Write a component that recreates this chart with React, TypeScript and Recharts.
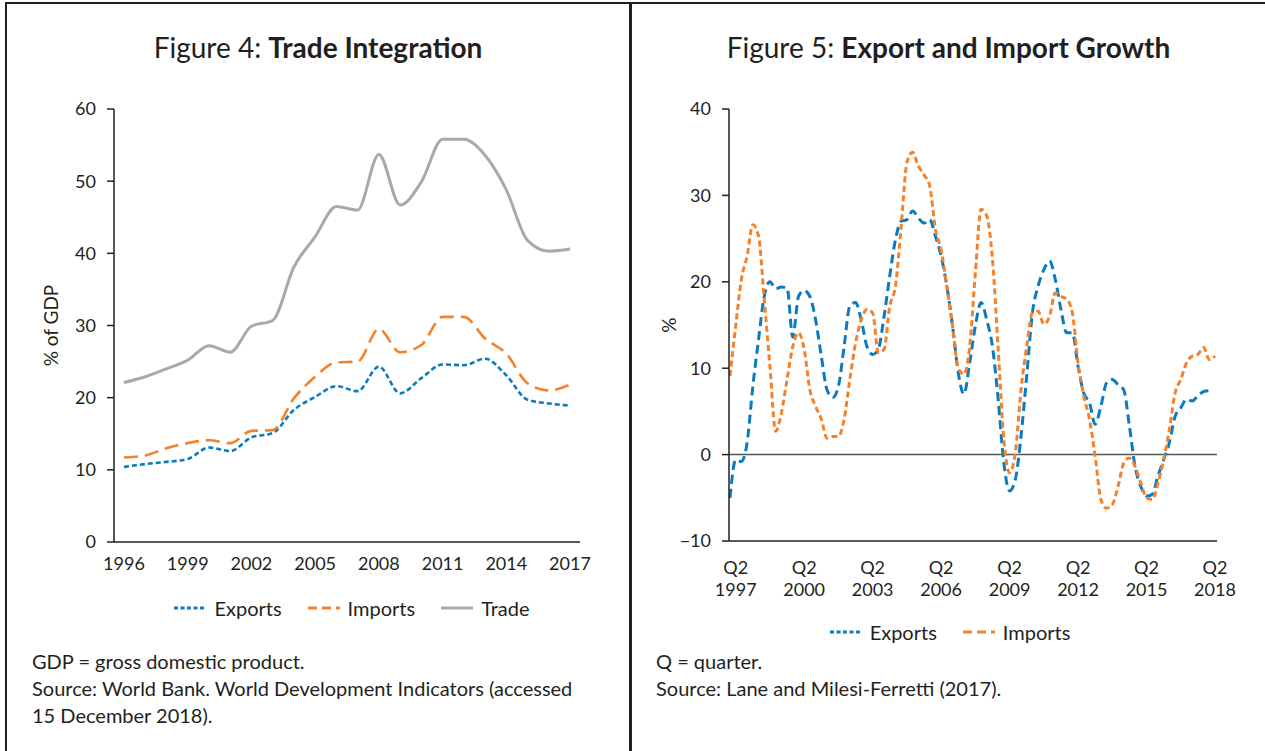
import { LineChart, Line, XAxis, YAxis, ReferenceArea, ReferenceLine, Legend } from 'recharts';

const INK = '#231f20';
const BLUE = '#0a7bbf';
const ORANGE = '#f5822a';
const GREY = '#a7a9ac';
const FONT = 'Lato, sans-serif';

// Figure 4: trade as % of GDP
const years = ['1996', '1997', '1998', '1999', '2000', '2001', '2002', '2003', '2004', '2005', '2006',
  '2007', '2008', '2009', '2010', '2011', '2012', '2013', '2014', '2015', '2016', '2017'];
const exportsGdp = [10.4, 10.8, 11.1, 11.5, 13.1, 12.6, 14.5, 15.1, 18.3, 20.1, 21.6, 20.9, 24.3, 20.6, 22.7,
  24.6, 24.5, 25.4, 23.1, 19.7, 19.2, 18.9];
const importsGdp = [11.7, 12.0, 13.0, 13.7, 14.1, 13.7, 15.4, 15.5, 19.9, 22.9, 24.9, 25.0, 29.5, 26.3, 27.3,
  31.2, 31.2, 28.2, 26.1, 22.0, 21.0, 21.8];
const tradeGdp = [22.1, 22.9, 24.0, 25.2, 27.2, 26.3, 29.9, 30.7, 38.1, 42.3, 46.5, 46.0, 53.7, 46.7, 49.9,
  55.8, 55.8, 53.6, 48.8, 41.8, 40.3, 40.6];
const gdpTicks = [0, 10, 20, 30, 40, 50, 60];

// Figure 5: growth, Q1 1997 - Q2 2018
const firstYear = 1997;
const quarterCount = 86;
const exportGrowth = [-5.0, -0.6, -0.8, 1.4, 7.9, 13.3, 18.3, 20.0, 19.2, 19.4,
  19.3, 13.6, 18.3, 19.0, 18.3, 15.6, 11.4, 7.5, 6.6, 7.9,
  12.5, 17.2, 17.6, 15.6, 12.5, 11.6, 12.2, 16.0, 20.7, 24.9,
  27.0, 27.2, 28.2, 27.4, 26.8, 27.2, 25.3, 23.0, 19.5, 14.9,
  9.5, 7.0, 10.6, 14.9, 17.6, 15.6, 12.5, 6.4, -1.0, -4.2,
  -2.9, 2.1, 9.1, 16.4, 19.5, 21.4, 22.4, 20.3, 16.8, 14.1,
  14.1, 10.2, 7.1, 6.0, 3.5, 5.6, 8.3, 8.7, 8.1, 7.5,
  3.3, -1.4, -3.7, -4.8, -4.6, -2.5, -0.6, 1.4, 4.4, 5.4,
  6.4, 6.2, 6.8, 7.3, 7.4, null];
const importGrowth = [9.1, 14.9, 20.3, 23.0, 26.6, 25.3, 18.0, 10.2, 2.7, 4.8,
  8.7, 12.5, 14.1, 12.2, 7.5, 5.6, 4.1, 1.9, 2.1, 2.1,
  4.1, 8.7, 12.9, 15.6, 16.8, 16.4, 11.8, 12.2, 17.2, 19.5,
  26.4, 33.8, 35.0, 33.4, 32.4, 31.1, 26.1, 23.7, 19.5, 14.9,
  10.0, 9.3, 12.5, 21.0, 28.4, 27.6, 22.6, 12.2, 1.7, -2.1,
  0.2, 7.5, 12.5, 16.4, 16.6, 15.1, 16.0, 18.7, 18.3, 18.0,
  16.4, 10.6, 6.8, 4.1, -0.2, -5.2, -6.2, -5.8, -3.7, -1.0,
  -0.4, -1.4, -3.3, -5.0, -5.2, -3.3, -0.6, 2.9, 7.1, 8.7,
  10.6, 11.4, 11.6, 12.4, 11.0, 11.4];
const tickYears = ['1997', '2000', '2003', '2006', '2009', '2012', '2015', '2018'];
const tickQuarter = 'Q2';
const growthTicks = [-10, 0, 10, 20, 30, 40];

const tradeData = years.map((year, i) => ({
  year, exports: exportsGdp[i], imports: importsGdp[i], trade: tradeGdp[i],
}));

const growthData = Array.from({ length: quarterCount }, (_, i) => ({
  year: String(firstYear + Math.floor(i / 4)),
  q: `Q${(i % 4) + 1}`,
  quarter: `${firstYear + Math.floor(i / 4)} Q${(i % 4) + 1}`,
  exports: exportGrowth[i],
  imports: importGrowth[i],
}));

const legendDash: Record<string, string | undefined> = { exports: '4 2.5', imports: '9 5', trade: undefined };

const tickStyle = { fill: INK, fontSize: 18, fontFamily: FONT, fontWeight: 400 };

const makeLegend = (shift: number) => (props: any) => (
  <div style={{ display: 'flex', justifyContent: 'center', paddingLeft: shift, height: 30, alignItems: 'center',
    fontFamily: FONT, fontSize: 20, fontWeight: 400, color: INK }}>
    {(props.payload || []).map((entry: any) => (
      <span key={entry.dataKey} style={{ display: 'inline-flex', alignItems: 'center', margin: '0 13px' }}>
        <svg width={32} height={8}>
          <line x1={0} y1={4} x2={32} y2={4} stroke={entry.color} strokeWidth={3}
            strokeDasharray={legendDash[entry.dataKey]} />
        </svg>
        <span style={{ marginLeft: 8 }}>{entry.value}</span>
      </span>
    ))}
  </div>
);

const axisTitle = (text: string, dx: number) => (props: any) => {
  const vb = props.viewBox;
  const cx = vb.x + dx;
  const cy = vb.y + vb.height / 2;
  return (
    <text x={cx} y={cy} transform={`rotate(-90, ${cx}, ${cy})`} textAnchor='middle' dominantBaseline='central'
      fill={INK} fontSize={19} fontFamily={FONT}>{text}</text>
  );
};

const QuarterTick = (props: any) => {
  const { x, y, payload } = props;
  const row = growthData.find((d) => d.quarter === payload.value);
  if (!row || row.q !== tickQuarter || !tickYears.includes(row.year)) return <g />;
  return (
    <text x={x} y={y} textAnchor='middle' {...tickStyle}>
      <tspan x={x} dy='0.71em'>{row.q}</tspan>
      <tspan x={x} dy='1.25em'>{row.year}</tspan>
    </text>
  );
};

const minus = (v: number) => (v < 0 ? `\u2212${Math.abs(v)}` : `${v}`);

const titleStyle = {
  position: 'absolute' as const, top: 31, height: 32, lineHeight: '32px', textAlign: 'center' as const,
  fontFamily: FONT, fontSize: 28, color: INK,
};
const noteStyle = {
  position: 'absolute' as const, fontFamily: FONT, fontSize: 20, lineHeight: '27px', color: INK,
};

export default function App() {
  return (
    <div style={{ position: 'absolute', left: 0, top: 0, width: 1265, height: 751, background: '#fff', overflow: 'hidden' }}>
      <div style={{ position: 'absolute', left: 5, top: 2, width: 1260, height: 2, background: INK }} />
      <div style={{ position: 'absolute', left: 5, top: 2, width: 2, height: 749, background: INK }} />
      <div style={{ position: 'absolute', left: 629, top: 2, width: 3, height: 749, background: INK }} />

      <div style={{ ...titleStyle, left: 0, width: 636 }}>
        Figure 4: <b>Trade Integration</b>
      </div>
      <div style={{ ...titleStyle, left: 632, width: 633 }}>
        Figure 5: <b>Export and Import Growth</b>
      </div>

      <div style={{ position: 'absolute', left: 0, top: 0 }}>
        <LineChart width={630} height={640} data={tradeData} margin={{ top: 109, right: 50, bottom: 17, left: 54 }}>
          <XAxis dataKey='year' interval={2} tickLine={false} tickSize={0} tickMargin={15} height={51}
            padding={{ left: 10, right: 10 }}
            axisLine={{ stroke: INK, strokeWidth: 1.5 }} tick={tickStyle} />
          <YAxis domain={[0, 60]} ticks={gdpTicks} width={60} tickSize={7} tickMargin={11}
            axisLine={{ stroke: INK, strokeWidth: 1.5 }} tickLine={{ stroke: INK, strokeWidth: 1.5 }} tick={tickStyle}
            label={{ content: axisTitle('% of GDP', -4) }} />
          <ReferenceArea fill='none' stroke={INK} strokeWidth={1.5} />
          <Legend verticalAlign='bottom' content={makeLegend(70)} />
          <Line type='monotone' dataKey='exports' name='Exports' stroke={BLUE} strokeWidth={2.6}
            strokeDasharray='5 3' dot={false} isAnimationActive={false} />
          <Line type='monotone' dataKey='imports' name='Imports' stroke={ORANGE} strokeWidth={2.6}
            strokeDasharray='14 7' dot={false} isAnimationActive={false} />
          <Line type='monotone' dataKey='trade' name='Trade' stroke={GREY} strokeWidth={3}
            dot={false} isAnimationActive={false} />
        </LineChart>
      </div>

      <div style={{ position: 'absolute', left: 630, top: 0 }}>
        <LineChart width={635} height={660} data={growthData} margin={{ top: 109, right: 48, bottom: 13, left: 39 }}>
          <XAxis dataKey='quarter' interval={0} tickLine={false} tickSize={0} tickMargin={20} height={76}
            padding={{ left: 1, right: 2 }}
            axisLine={{ stroke: INK, strokeWidth: 1.5 }} tick={<QuarterTick />} />
          <YAxis domain={[-10, 40]} ticks={growthTicks} width={60} tickSize={7} tickMargin={11}
            tickFormatter={minus}
            axisLine={{ stroke: INK, strokeWidth: 1.5 }} tickLine={{ stroke: INK, strokeWidth: 1.5 }} tick={tickStyle}
            label={{ content: axisTitle('%', -1) }} />
          <ReferenceArea fill='none' stroke={INK} strokeWidth={1.5} />
          <ReferenceLine y={0} stroke='#555' strokeWidth={1.5} />
          <Legend verticalAlign='bottom' content={makeLegend(14)} />
          <Line type='monotone' dataKey='exports' name='Exports' stroke={BLUE} strokeWidth={3}
            strokeDasharray='9 5' dot={false} connectNulls={false} isAnimationActive={false} />
          <Line type='monotone' dataKey='imports' name='Imports' stroke={ORANGE} strokeWidth={3}
            strokeDasharray='6 3.5' dot={false} isAnimationActive={false} />
        </LineChart>
      </div>

      <div style={{ ...noteStyle, left: 32, top: 648 }}>
        GDP = gross domestic product.<br />
        Source: World Bank. World Development Indicators (accessed<br />
        15 December 2018).
      </div>
      <div style={{ ...noteStyle, left: 656, top: 648 }}>
        Q = quarter.<br />
        Source: Lane and Milesi-Ferretti (2017).
      </div>
    </div>
  );
}
